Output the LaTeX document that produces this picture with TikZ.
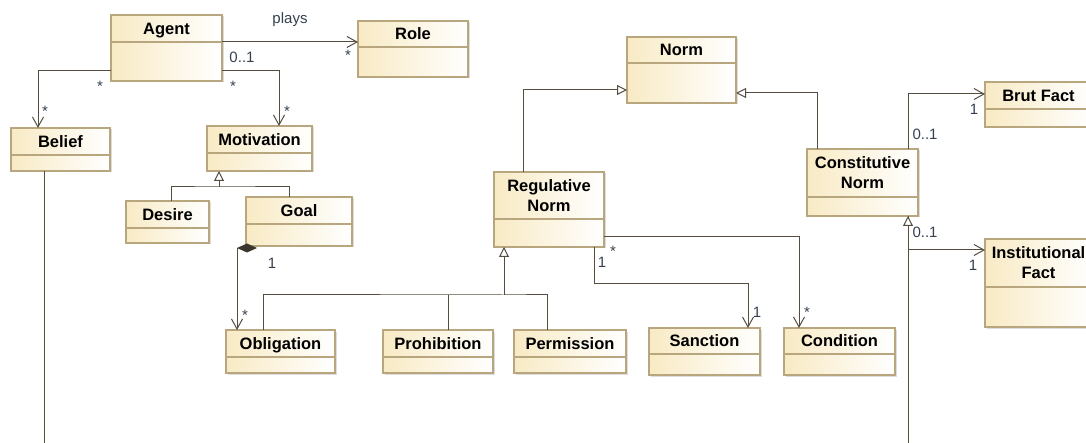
\documentclass[tikz,border=0pt]{standalone}
\usepackage{fontspec}
\setmainfont{Liberation Sans}
\usetikzlibrary{arrows.meta,shadows}
\definecolor{clsborder}{HTML}{B8A67E}
\definecolor{clsfill}{HTML}{F8EAC4}
\definecolor{clsline}{HTML}{554D40}
\definecolor{labcol}{HTML}{34404F}
\tikzset{
  clsbox/.style={draw=clsborder, line width=1.2pt, left color=clsfill, right color=white,
    inner sep=0pt, outer sep=0pt,
    drop shadow={shadow xshift=1.5pt, shadow yshift=-1.5pt, opacity=0.22, fill=black!60}},
  sepline/.style={draw=clsborder, line width=1.2pt},
  titleone/.style={font=\fontsize{16.5}{20}\bfseries\selectfont, inner sep=0pt,
    text height=11.8pt, text depth=0pt},
  titletwo/.style={font=\fontsize{16.5}{20}\bfseries\selectfont, inner sep=0pt, align=center},
  conn/.style={draw=clsline, line width=1pt},
  nav/.style={conn, -{Straight Barb[length=10pt,width=11pt,line width=1pt]}},
  gen/.style={conn, -{Triangle[open,length=10pt,width=10pt,line width=1pt,fill=white]}},
  lab/.style={font=\fontsize{15}{18}\selectfont, text=labcol, inner sep=0pt, anchor=base},
}
\newcommand\umlcls[8][titleone]{%
  \node[clsbox, anchor=north west, minimum width=#5pt-#3pt, minimum height=#6pt-#4pt] (#2) at (#3,#4) {};
  \draw[sepline] (#3,#7) -- (#5,#7);
  \node[#1] (#2-t) at ({(#3+#5)/2},{(#4+#7)/2}) {#8};
}
\begin{document}
\begin{tikzpicture}[x=1pt,y=-1pt]
\useasboundingbox (0,0) rectangle (1086,443);
\clip (0,0) rectangle (1086,443);
% classes
\umlcls{agent}{111}{15}{222}{81}{42}{Agent}
\umlcls{role}{358}{21}{468}{77}{47}{Role}
\umlcls{belief}{11}{128}{110}{171}{155}{Belief}
\umlcls{motivation}{207}{126}{312}{171}{153}{Motivation}
\umlcls{desire}{126}{201}{209}{243}{228}{Desire}
\umlcls{goal}{246}{197}{352}{246}{224}{Goal}
\umlcls{obligation}{226}{330}{335}{373}{357}{Obligation}
\umlcls{prohibition}{383}{330}{493}{373}{357}{Prohibition}
\umlcls{permission}{514}{330}{626}{373}{357}{Permission}
\umlcls{sanction}{649}{328}{760}{375}{354}{Sanction}
\umlcls{condition}{784}{328}{895}{375}{354}{Condition}
\umlcls{norm}{627}{37}{736}{103}{63}{Norm}
\umlcls[titletwo]{regnorm}{494}{172}{604}{247}{219}{Regulative\\Norm}
\umlcls[titletwo]{constnorm}{807}{149}{918}{216}{197}{Constitutive\\Norm}
\umlcls{brut}{985}{82}{1092}{127}{109}{Brut Fact}
\umlcls[titletwo]{inst}{985}{239}{1092}{327}{287}{Institutional\\Fact}
% Agent plays Role
\coordinate (pA) at ([yshift=6pt]agent.east);
\draw[nav] (pA) -- (pA -| role.west);
% Agent - Belief / Motivation
\draw[nav] ([yshift=-23pt]agent.west) -| ([xshift=-22.5pt]belief.north);
\draw[nav] ([yshift=-23pt]agent.east) -| ([xshift=19.5pt]motivation.north);
% Motivation generalization
\coordinate (jm) at (219,187);
\draw[conn] ([xshift=3.5pt]desire.north) |- (jm) -| ([xshift=-10pt]goal.north);
\draw[gen] (jm) -- (jm |- motivation.south);
% Goal composition Obligation
\coordinate (dl) at (237,248);
\fill[clsline!70!black] (237,248) -- (247,243.5) -- (257,248) -- (247,252.5) -- cycle;
\draw[nav] (dl) -- (dl |- obligation.north);
% Norm generalizations
\draw[gen] ([xshift=-26pt]regnorm.north) |- ([yshift=-20pt]norm.west);
\draw[gen] ([xshift=-45.5pt]constnorm.north) |- ([yshift=-23pt]norm.east);
% Regulative specializations
\coordinate (jr) at (504,295);
\coordinate (ph) at ([xshift=10pt]prohibition.north);
\draw[conn] ([xshift=-17.5pt]obligation.north) |- (jr) -| ([xshift=-23pt]permission.north);
\draw[conn] (ph) -- (ph |- jr);
\draw[gen] (jr) -- (jr |- regnorm.south);
% Regulative - Sanction / Condition
\draw[nav] ([xshift=45pt]regnorm.south) -- ++(0,37) -| ([xshift=43.5pt]sanction.north);
\draw[nav] ([yshift=-27.5pt]regnorm.east) -| ([xshift=-40.5pt]condition.north);
% Constitutive - facts
\draw[nav] ([xshift=45.5pt]constnorm.north) |- ([yshift=10.5pt]brut.west);
\draw[nav] ([xshift=45.5pt]constnorm.south) |- ([yshift=33pt]inst.west);
\coordinate (cb) at (908,450);
\draw[gen] (cb) -- (cb |- constnorm.south);
% Belief line
\coordinate (bb) at ([xshift=-16.5pt]belief.south);
\draw[conn] (bb) -- (bb |- cb);
% labels
\node[lab] (l1) at (290,24) {plays};
\node[lab] (l2) at (242,63) {0..1};
\node[lab] (l3) at (348,61) {*};
\node[lab] (l4) at (100,92) {*};
\node[lab] (l5) at (45,117) {*};
\node[lab] (l6) at (233,92) {*};
\node[lab] (l7) at (287,117) {*};
\node[lab] (l8) at (272,269) {1};
\node[lab] (l9) at (245,320) {*};
\node[lab] (l10) at (602,268) {1};
\node[lab] (l11) at (613,257) {*};
\node[lab] (l12) at (757,318) {1};
\node[lab] (l13) at (807,317) {*};
\node[lab] (l14) at (925,140) {0..1};
\node[lab] (l15) at (974,115) {1};
\node[lab] (l16) at (925,238) {0..1};
\node[lab] (l17) at (973,271) {1};
\end{tikzpicture}
\end{document}
